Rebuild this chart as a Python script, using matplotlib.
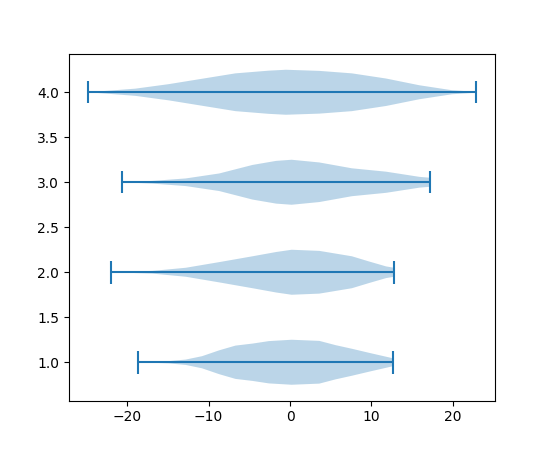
import numpy as np
import matplotlib.pyplot as plt

positions = [1, 2, 3, 4]

# density outlines (relative, peak = 1)
coords_1 = [-18.7, -14.9, -12.8, -10.8, -8.7, -6.7, -4.6, -2.6, 0.2, 3.6, 5.6, 7.6, 9.7, 12.6]
dens_1 = [0.0, 0.05, 0.12, 0.27, 0.53, 0.74, 0.83, 0.94, 1.0, 0.95, 0.76, 0.6, 0.42, 0.18]

coords_2 = [-22.0, -16.9, -12.8, -8.7, -4.6, -1.7, 0.2, 3.6, 7.6, 9.7, 11.8, 12.8]
dens_2 = [0.0, 0.06, 0.2, 0.45, 0.71, 0.9, 1.0, 0.95, 0.71, 0.48, 0.26, 0.2]

coords_3 = [-20.7, -16.9, -12.8, -8.7, -4.6, -1.7, 0.2, 3.6, 7.6, 11.8, 15.9, 17.2]
dens_3 = [0.0, 0.06, 0.17, 0.39, 0.77, 0.95, 1.0, 0.88, 0.62, 0.47, 0.24, 0.2]

coords_4 = [-24.8, -19.0, -14.9, -10.8, -6.7, -2.6, -0.5, 3.6, 7.6, 11.8, 15.9, 19.9, 22.8]
dens_4 = [0.0, 0.16, 0.36, 0.6, 0.84, 0.96, 1.0, 0.95, 0.84, 0.61, 0.31, 0.09, 0.02]

all_coords = [coords_1, coords_2, coords_3, coords_4]
all_dens = [dens_1, dens_2, dens_3, dens_4]

vpstats = []
for c, d in zip(all_coords, all_dens):
    c = np.array(c)
    vpstats.append({
        'coords': c,
        'vals': np.array(d),
        'mean': 0.0,
        'median': 0.0,
        'min': c.min(),
        'max': c.max(),
    })

fig, ax = plt.subplots(figsize=(5.5, 4.5), dpi=100)
ax.violin(vpstats, positions=positions, orientation='horizontal', widths=0.5,
          showmeans=False, showextrema=True, showmedians=False)

fig.savefig('out.png')
